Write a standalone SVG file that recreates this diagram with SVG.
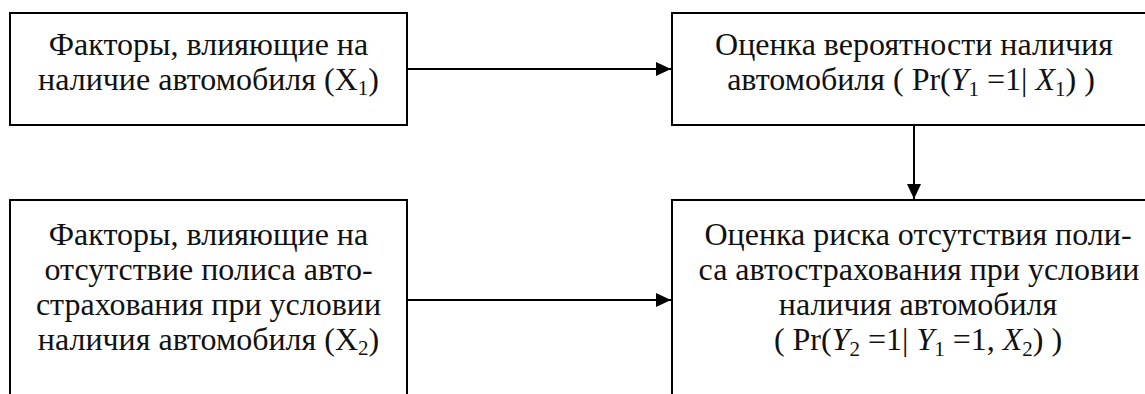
<svg xmlns="http://www.w3.org/2000/svg" width="1145" height="394" viewBox="0 0 1145 394">
<style>
.box{fill:#fff;stroke:#000;stroke-width:2}
.t{font-family:'Liberation Serif','Times New Roman',Times,serif;font-size:32px;fill:#111;text-anchor:middle}
.i{font-style:italic}
.s{font-size:21px}
.c{stroke:#000;stroke-width:2;fill:none}
</style>
<defs>
<marker id="ah" viewBox="0 0 15 14" refX="15" refY="7" markerWidth="15" markerHeight="14" markerUnits="userSpaceOnUse" orient="auto">
<path d="M0,0 L15,7 L0,14 z" fill="#000"/>
</marker>
</defs>
<g id="connectors">
<line class="c" x1="408" y1="69" x2="671" y2="69" marker-end="url(#ah)"/>
<line class="c" x1="914" y1="125" x2="914" y2="199" marker-end="url(#ah)"/>
<line class="c" x1="408" y1="300" x2="671" y2="300" marker-end="url(#ah)"/>
</g>
<g id="n1">
<rect class="box" x="10" y="13" width="397" height="112"/>
<text class="t" x="208.5" y="55">Факторы, влияющие на</text>
<text class="t" x="208.5" y="90">наличие автомобиля (X<tspan class="s" dy="5">1</tspan><tspan dy="-5">)</tspan></text>
</g>
<g id="n2">
<rect class="box" x="672" y="13" width="490" height="112"/>
<text class="t" x="914" y="55">Оценка вероятности наличия</text>
<text class="t" x="911" y="90">автомобиля ( Pr(<tspan class="i">Y</tspan><tspan class="s" dy="6">1</tspan><tspan dy="-6"> =1| </tspan><tspan class="i">X</tspan><tspan class="s" dy="6">1</tspan><tspan dy="-6">) )</tspan></text>
</g>
<g id="n3">
<rect class="box" x="10" y="200" width="397" height="210"/>
<text class="t" x="208.5" y="245">Факторы, влияющие на</text>
<text class="t" x="208.5" y="280">отсутствие полиса авто-</text>
<text class="t" x="208.5" y="315">страхования при условии</text>
<text class="t" x="208.5" y="350">наличия автомобиля (X<tspan class="s" dy="5">2</tspan><tspan dy="-5">)</tspan></text>
</g>
<g id="n4">
<rect class="box" x="672" y="200" width="490" height="210"/>
<text class="t" x="918" y="245">Оценка риска отсутствия поли-</text>
<text class="t" x="919" y="280">са автострахования при условии</text>
<text class="t" x="918" y="315">наличия автомобиля</text>
<text class="t" x="918" y="350">( Pr(<tspan class="i">Y</tspan><tspan class="s" dy="6">2</tspan><tspan dy="-6"> =1| </tspan><tspan class="i">Y</tspan><tspan class="s" dy="6">1</tspan><tspan dy="-6"> =1, </tspan><tspan class="i">X</tspan><tspan class="s" dy="6">2</tspan><tspan dy="-6">) )</tspan></text>
</g>
</svg>
